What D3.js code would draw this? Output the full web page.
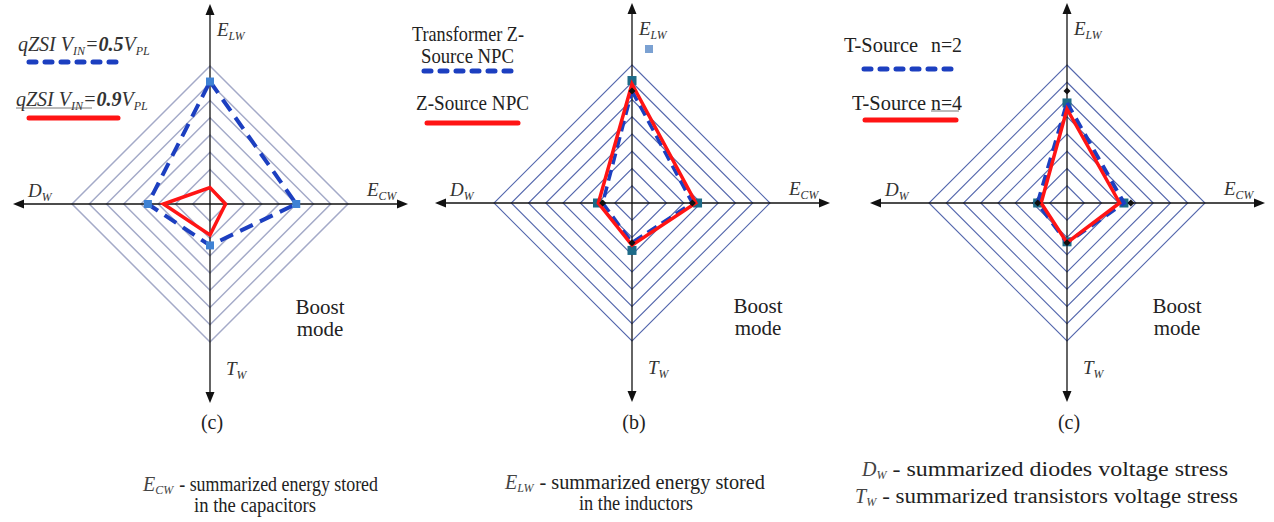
<!DOCTYPE html>
<html><head><meta charset="utf-8">
<script src="https://cdn.jsdelivr.net/npm/d3@7"></script>
<style>
body{margin:0;background:#fff}
svg{display:block}
text{font-family:"Liberation Serif","Times New Roman","DejaVu Serif",serif;fill:#222}
</style>
</head><body>
<svg id="chart" width="1274" height="522" font-family="Liberation Serif, Times New Roman, serif"></svg>
<script>
// ---------- data ----------
const axisMain = ["E", "E", "T", "D"];          // top, right, bottom, left
const axisSub  = ["LW", "CW", "W", "W"];
const ringLevels = [1, 2, 3, 4, 5, 6, 7, 8];
const maxLevel = 8;

// panel (c) left: qZSI
const qzsi05 = [7.1, 5.0, 2.4, 3.6];
const qzsi09 = [0.95, 0.9, 1.8, 2.7];
// panel (b): NPC
const transformerZSourceNPC = [6.5, 3.5, 2.3, 1.7];
const zSourceNPC = [6.9, 3.7, 2.45, 1.95];
const zSourceNPCMarkers = [7.1, 3.8, 2.75, 2.0];
// panel (c) right: T-Source
const tSourceN2 = [5.8, 3.3, 2.3, 1.7];
const tSourceN4 = [5.45, 3.05, 2.3, 1.5];
const tSourceMarkers = [5.8, 3.3, 2.25, 1.7];
const tSourceN2Diamonds = [6.5, 3.7, 2.3, 1.7];

const panelLabels = ["(c)", "(b)", "(c)"];
const modeLabel = ["Boost", "mode"];
const footnotes = [
  {main: "E", sub: "CW", lines: ["- summarized energy stored", "in the capacitors"]},
  {main: "E", sub: "LW", lines: ["- summarized energy stored", "in the inductors"]},
  {main: "D", sub: "W", lines: ["- summarized diodes voltage stress"]},
  {main: "T", sub: "W", lines: ["- summarized transistors voltage stress"]}
];

// ---------- layout ----------
const svg = d3.select("#chart");
const BLUE = "#1c3fc0", RED = "#ff1414";
const dirs = [[0, -1], [1, 0], [0, 1], [-1, 0]];
const r = d3.scaleLinear().domain([0, maxLevel]).range([0, 138]);

const panels = [
  {cx: 210, cy: 204, grid: "#a4aac8", gridW: 1.5, boostDx: 110},
  {cx: 632, cy: 203, grid: "#5467ad", gridW: 1.1, boostDx: 126},
  {cx: 1067, cy: 203, grid: "#5467ad", gridW: 1.1, boostDx: 110}
];

function pt(p, v, i) { return [p.cx + dirs[i][0] * r(v), p.cy + dirs[i][1] * r(v)]; }
const closed = d3.line().curve(d3.curveLinearClosed);

function italicLabel(g, x, y, main, sub, size) {
  const t = g.append("text").attr("x", x).attr("y", y)
    .style("font-style", "italic").style("font-size", size + "px").style("fill", "#333");
  t.append("tspan").text(main);
  t.append("tspan").attr("dy", size * 0.22).style("font-size", (size * 0.62) + "px").text(sub);
  return t;
}

function drawPanel(p, idx) {
  const g = svg.append("g");
  g.selectAll("path.ring").data(ringLevels).join("path")
    .attr("d", lv => closed([0, 1, 2, 3].map(i => pt(p, lv, i))))
    .attr("fill", "none").attr("stroke", p.grid).attr("stroke-width", p.gridW);
  const hx0 = p.cx - 197, hx1 = p.cx + 198, vy0 = p.cy - 200, vy1 = p.cy + 199;
  g.append("line").attr("x1", hx0 + 4).attr("x2", hx1 - 4).attr("y1", p.cy).attr("y2", p.cy)
    .attr("stroke", "#111").attr("stroke-width", 1.3);
  g.append("line").attr("x1", p.cx).attr("x2", p.cx).attr("y1", vy0 + 4).attr("y2", vy1 - 4)
    .attr("stroke", "#111").attr("stroke-width", 1.3);
  const L = 11, W = 4.5;
  const tris = [
    [[hx0, p.cy], [hx0 + L, p.cy - W], [hx0 + L, p.cy + W]],
    [[hx1, p.cy], [hx1 - L, p.cy - W], [hx1 - L, p.cy + W]],
    [[p.cx, vy0], [p.cx - W, vy0 + L], [p.cx + W, vy0 + L]],
    [[p.cx, vy1], [p.cx - W, vy1 - L], [p.cx + W, vy1 - L]]
  ];
  g.selectAll("path.arr").data(tris).join("path").attr("d", d => closed(d)).attr("fill", "#111");
  italicLabel(g, p.cx + 7, p.cy - 168, axisMain[0], axisSub[0], 19);
  italicLabel(g, p.cx + 157, p.cy - 8, axisMain[1], axisSub[1], 19);
  italicLabel(g, p.cx + 16, p.cy + 171, axisMain[2], axisSub[2], 19);
  italicLabel(g, p.cx - 182, p.cy - 7, axisMain[3], axisSub[3], 19);
  g.append("text").attr("x", p.cx + p.boostDx).attr("y", p.cy + 110).attr("text-anchor", "middle")
    .style("font-size", "21px").text(modeLabel[0]);
  g.append("text").attr("x", p.cx + p.boostDx).attr("y", p.cy + 132).attr("text-anchor", "middle")
    .style("font-size", "21px").text(modeLabel[1]);
  g.append("text").attr("x", p.cx + 2).attr("y", 429).attr("text-anchor", "middle")
    .style("font-size", "20px").text(panelLabels[idx]);
  return g;
}

function series(g, p, vals, color, width, dash) {
  g.append("path").attr("d", closed(vals.map((v, i) => pt(p, v, i))))
    .attr("fill", "none").attr("stroke", color).attr("stroke-width", width)
    .attr("stroke-dasharray", dash || null).attr("stroke-linejoin", "miter");
}
function squares(g, p, vals, color, s) {
  g.selectAll(null).data(vals).join("rect")
    .attr("x", (v, i) => pt(p, v, i)[0] - s / 2).attr("y", (v, i) => pt(p, v, i)[1] - s / 2)
    .attr("width", s).attr("height", s).attr("fill", color);
}
function diamonds(g, p, vals, s) {
  g.selectAll(null).data(vals).join("path")
    .attr("d", (v, i) => { const [x, y] = pt(p, v, i); return closed([[x, y - s], [x + s, y], [x, y + s], [x - s, y]]); })
    .attr("fill", "#111");
}

const g1 = drawPanel(panels[0], 0);
series(g1, panels[0], qzsi05, BLUE, 4, "14,8");
squares(g1, panels[0], qzsi05, "#3f82d4", 8);
series(g1, panels[0], qzsi09, RED, 3.5);

const g2 = drawPanel(panels[1], 1);
squares(g2, panels[1], zSourceNPCMarkers, "#1d6b88", 9);
series(g2, panels[1], transformerZSourceNPC, BLUE, 3.5, "11,6");
series(g2, panels[1], zSourceNPC, RED, 3.5);
diamonds(g2, panels[1], transformerZSourceNPC, 3.5);
g2.append("rect").attr("x", 645).attr("y", 45).attr("width", 8).attr("height", 8).attr("fill", "#7ba1d2");

const g3 = drawPanel(panels[2], 2);
squares(g3, panels[2], tSourceMarkers, "#1d6b88", 9);
series(g3, panels[2], tSourceN2, BLUE, 4, "11,7");
series(g3, panels[2], tSourceN4, RED, 3.5);
diamonds(g3, panels[2], tSourceN2Diamonds, 3.5);

// ---------- legends ----------
function legendLine(x1, x2, y, color, dashed) {
  svg.append("line").attr("x1", x1).attr("x2", x2).attr("y1", y).attr("y2", y)
    .attr("stroke", color).attr("stroke-width", 5).attr("stroke-linecap", "round")
    .attr("stroke-dasharray", dashed ? "7,9" : null);
}
function qzsiLabel(x, y, val) {
  const t = svg.append("text").attr("x", x).attr("y", y).style("font-style", "italic").style("font-size", "20px").style("fill", "#333");
  t.append("tspan").text("qZSI V");
  t.append("tspan").attr("dy", 4).style("font-size", "12px").text("IN");
  t.append("tspan").attr("dy", -4).text("=");
  t.append("tspan").style("font-weight", "bold").text(val);
  t.append("tspan").text("V");
  t.append("tspan").attr("dy", 4).style("font-size", "12px").text("PL");
}
qzsiLabel(18, 51, "0.5");
legendLine(29, 118, 62, BLUE, true);
qzsiLabel(16, 106, "0.9");
svg.append("line").attr("x1", 16).attr("x2", 92).attr("y1", 108).attr("y2", 108).attr("stroke", "#555").attr("stroke-width", 0.8);
legendLine(29, 118, 118, RED, false);

function legendText(x, y, s, len) {
  svg.append("text").attr("x", x).attr("y", y).style("font-size", "21px")
    .attr("textLength", len).attr("lengthAdjust", "spacingAndGlyphs").text(s);
}
legendText(412, 41, "Transformer Z-", 112);
legendText(421, 63, "Source NPC", 93);
legendLine(424, 513, 71, BLUE, true);
legendText(416, 110, "Z-Source NPC", 113);
legendLine(427, 518, 123, RED, false);

legendText(844, 52, "T-Source", 74);
legendText(931, 52, "n=2", 31);
legendLine(864, 953, 69, BLUE, true);
legendText(852, 110, "T-Source", 74);
legendText(931, 110, "n=4", 31);
svg.append("line").attr("x1", 931).attr("x2", 959).attr("y1", 111).attr("y2", 111).attr("stroke", "#555").attr("stroke-width", 0.8);
legendLine(865, 956, 120, RED, false);

// ---------- footnotes ----------
function footnote(f, x, y, endX, size) {
  const lab = svg.append("text").attr("x", x).attr("y", y).style("font-size", size + "px")
    .style("font-style", "italic").style("fill", "#444");
  lab.append("tspan").text(f.main);
  lab.append("tspan").attr("dy", 3).style("font-size", (size * 0.6) + "px").text(f.sub);
  const w = lab.node().getComputedTextLength();
  const sx = x + w + 6;
  svg.append("text").attr("x", sx).attr("y", y).style("font-size", size + "px")
    .attr("textLength", endX - sx).attr("lengthAdjust", "spacingAndGlyphs").text(f.lines[0]);
}
footnote(footnotes[0], 143, 491, 378, 20);
svg.append("text").attr("x", 255).attr("y", 512).attr("text-anchor", "middle").style("font-size", "20px")
  .attr("textLength", 122).attr("lengthAdjust", "spacingAndGlyphs").text(footnotes[0].lines[1]);
footnote(footnotes[1], 505, 489, 765, 20);
svg.append("text").attr("x", 636).attr("y", 510).attr("text-anchor", "middle").style("font-size", "20px")
  .attr("textLength", 114).attr("lengthAdjust", "spacingAndGlyphs").text(footnotes[1].lines[1]);
footnote(footnotes[2], 862, 476, 1228, 20);
footnote(footnotes[3], 855, 503, 1238, 20);
</script>
</body></html>
